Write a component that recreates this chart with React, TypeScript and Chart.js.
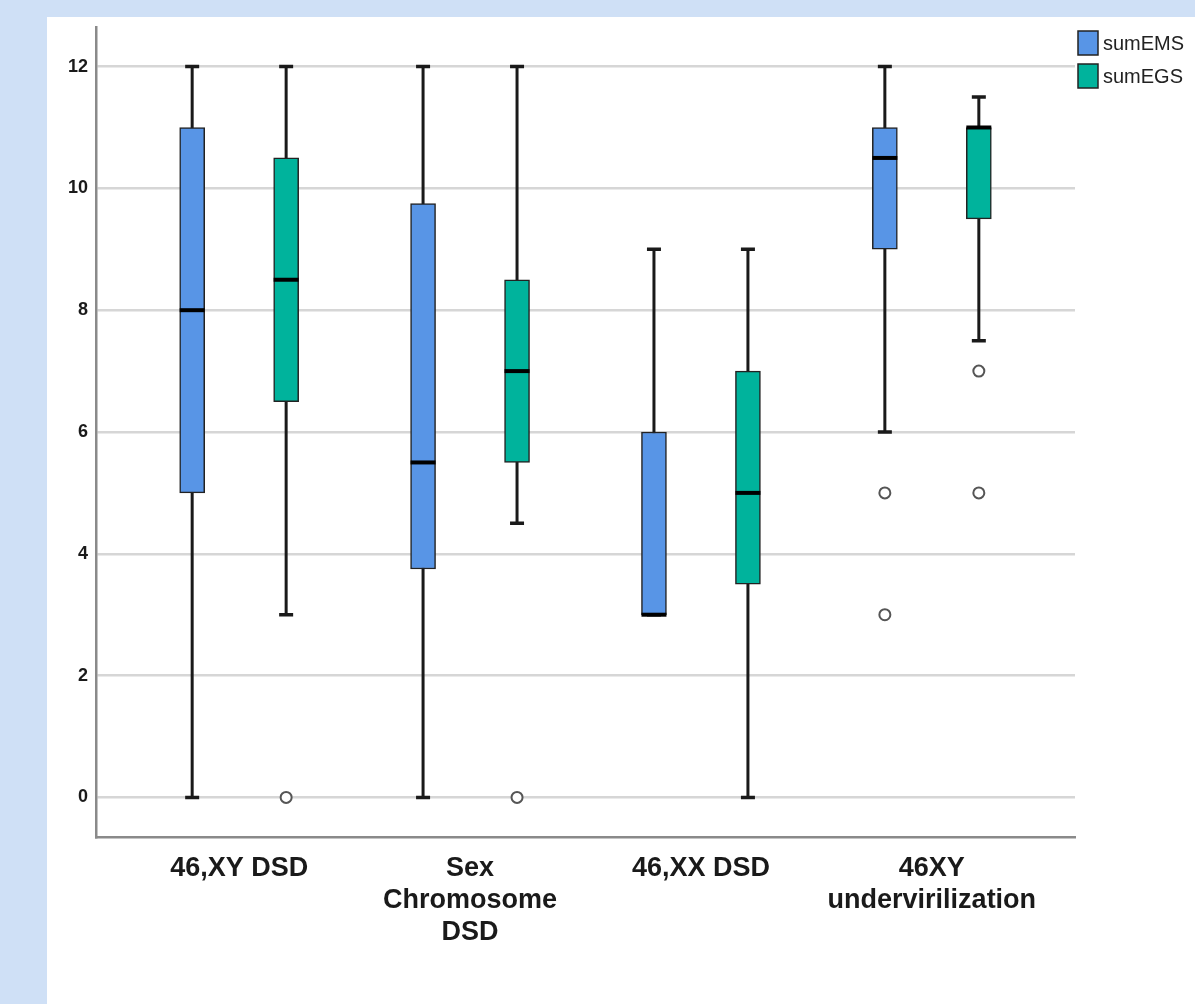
import { useEffect, useRef } from 'react';
import { Chart, registerables } from 'chart.js';

Chart.register(...registerables);

// ---------- data ----------
const categories: string[][] = [
  ['46,XY DSD'],
  ['Sex', 'Chromosome', 'DSD'],
  ['46,XX DSD'],
  ['46XY', 'undervirilization'],
];
const seriesNames = ['sumEMS', 'sumEGS'];

const emsMin = [0, 0, 3, 6];
const emsQ1 = [5, 3.75, 3, 9];
const emsMedian = [8, 5.5, 3, 10.5];
const emsQ3 = [11, 9.75, 6, 11];
const emsMax = [12, 12, 9, 12];
const emsOutliers: number[][] = [[], [], [], [5, 3]];

const egsMin = [3, 4.5, 0, 7.5];
const egsQ1 = [6.5, 5.5, 3.5, 9.5];
const egsMedian = [8.5, 7, 5, 11];
const egsQ3 = [10.5, 8.5, 7, 11];
const egsMax = [12, 12, 9, 11.5];
const egsOutliers: number[][] = [[0], [0], [], [7, 5]];

const yTicks = [0, 2, 4, 6, 8, 10, 12];

// ---------- style ----------
const COLORS = ['#5895e6', '#00b39c'];
const OFFSETS = [-0.2035, 0.2035];
const BOX_W = 25;

const series = [
  { min: emsMin, q1: emsQ1, med: emsMedian, q3: emsQ3, max: emsMax, out: emsOutliers },
  { min: egsMin, q1: egsQ1, med: egsMedian, q3: egsQ3, max: egsMax, out: egsOutliers },
];

const decorPlugin = {
  id: 'decor',
  beforeDraw(chart: any) {
    const { ctx, width, height } = chart;
    ctx.save();
    ctx.fillStyle = '#cfe0f6';
    ctx.fillRect(0, 0, width, height);
    ctx.fillStyle = '#ffffff';
    ctx.fillRect(47, 17, width - 47, height - 17);
    ctx.restore();
  },
  beforeDatasetsDraw(chart: any) {
    const { ctx } = chart;
    const xs = chart.scales.x;
    const ys = chart.scales.y;
    ctx.save();
    ctx.strokeStyle = '#1a1a1a';
    ctx.lineCap = 'butt';
    series.forEach((s, si) => {
      s.min.forEach((_, i) => {
        const x = xs.getPixelForValue(i + OFFSETS[si]);
        const yMin = ys.getPixelForValue(s.min[i]);
        const yMax = ys.getPixelForValue(s.max[i]);
        ctx.lineWidth = 3;
        ctx.beginPath();
        ctx.moveTo(x, yMin);
        ctx.lineTo(x, yMax);
        ctx.stroke();
        ctx.lineWidth = 3.5;
        ctx.beginPath();
        ctx.moveTo(x - 7, yMin);
        ctx.lineTo(x + 7, yMin);
        ctx.moveTo(x - 7, yMax);
        ctx.lineTo(x + 7, yMax);
        ctx.stroke();
      });
    });
    ctx.restore();
  },
  afterDatasetsDraw(chart: any) {
    const { ctx } = chart;
    const xs = chart.scales.x;
    const ys = chart.scales.y;
    ctx.save();
    ctx.strokeStyle = '#000000';
    ctx.lineWidth = 4;
    series.forEach((s, si) => {
      s.med.forEach((m, i) => {
        const x = xs.getPixelForValue(i + OFFSETS[si]);
        const y = ys.getPixelForValue(m);
        ctx.beginPath();
        ctx.moveTo(x - BOX_W / 2, y);
        ctx.lineTo(x + BOX_W / 2, y);
        ctx.stroke();
      });
    });
    ctx.restore();
  },
  afterDraw(chart: any) {
    const { ctx } = chart;
    ctx.save();
    const boxes = [
      { y: 31, h: 24 },
      { y: 64, h: 24 },
    ];
    seriesNames.forEach((name, i) => {
      ctx.fillStyle = COLORS[i];
      ctx.fillRect(1078, boxes[i].y, 20, boxes[i].h);
      ctx.strokeStyle = '#222';
      ctx.lineWidth = 1.5;
      ctx.strokeRect(1078, boxes[i].y, 20, boxes[i].h);
      ctx.fillStyle = '#222';
      ctx.font = '20px "Liberation Sans", Arial, sans-serif';
      ctx.textBaseline = 'middle';
      ctx.textAlign = 'left';
      ctx.fillText(name, 1103, boxes[i].y + boxes[i].h / 2 + 1);
    });
    ctx.restore();
  },
};

export default function App() {
  const ref = useRef<HTMLCanvasElement | null>(null);

  useEffect(() => {
    if (!ref.current) return;
    const boxDatasets = series.map((s, si) => ({
      type: 'bar' as const,
      label: seriesNames[si],
      data: s.q1.map((q, i) => ({ x: i + OFFSETS[si], y: [q, s.q3[i]] })),
      backgroundColor: COLORS[si],
      borderColor: '#222',
      borderWidth: 1.5,
      borderSkipped: false,
      barThickness: BOX_W,
      grouped: false,
    }));
    const outlierDatasets = series.map((s, si) => ({
      type: 'scatter' as const,
      label: seriesNames[si] + ' outliers',
      data: s.out.flatMap((vals, i) => vals.map((v) => ({ x: i + OFFSETS[si], y: v }))),
      pointRadius: 5.5,
      pointBorderWidth: 2,
      pointBackgroundColor: '#ffffff',
      pointBorderColor: '#555555',
    }));

    const chart = new Chart(ref.current, {
      type: 'bar',
      data: { datasets: [...boxDatasets, ...outlierDatasets] as any },
      plugins: [decorPlugin],
      options: {
        responsive: false,
        animation: false,
        events: [],
        layout: { padding: { left: 0, top: 27, right: 120, bottom: 0 } },
        plugins: { legend: { display: false }, tooltip: { enabled: false } },
        scales: {
          x: {
            type: 'linear',
            offset: false,
            min: -0.62,
            max: 3.62,
            afterBuildTicks: (axis: any) => {
              axis.ticks = categories.map((_, i) => ({ value: i }));
            },
            afterFit: (axis: any) => {
              axis.height = 167;
            },
            grid: { display: false, drawTicks: false, offset: false },
            border: { display: true, color: '#8a8a8a', width: 2.5 },
            ticks: {
              autoSkip: false,
              maxRotation: 0,
              padding: 16,
              color: '#1a1a1a',
              font: { family: '"Liberation Sans", Arial, sans-serif', size: 27, weight: 'bold', lineHeight: 32 / 27 },
              callback: (v: any) => categories[Math.round(Number(v))] ?? '',
            },
          },
          y: {
            type: 'linear',
            min: -0.65,
            max: 12.65,
            afterBuildTicks: (axis: any) => {
              axis.ticks = yTicks.map((v) => ({ value: v }));
            },
            afterFit: (axis: any) => {
              axis.width = 96;
            },
            grid: { color: '#d6d6d6', lineWidth: 2.5, drawTicks: false },
            border: { display: true, color: '#8a8a8a', width: 2.5 },
            ticks: {
              padding: 8,
              color: '#1a1a1a',
              font: { family: '"Liberation Sans", Arial, sans-serif', size: 18, weight: 'bold' },
            },
          },
        },
      } as any,
    });
    return () => chart.destroy();
  }, []);

  return (
    <div style={{ position: 'absolute', left: 0, top: 0, width: 1195, height: 1004 }}>
      <canvas ref={ref} width={1195} height={1004} style={{ display: 'block' }} />
    </div>
  );
}
